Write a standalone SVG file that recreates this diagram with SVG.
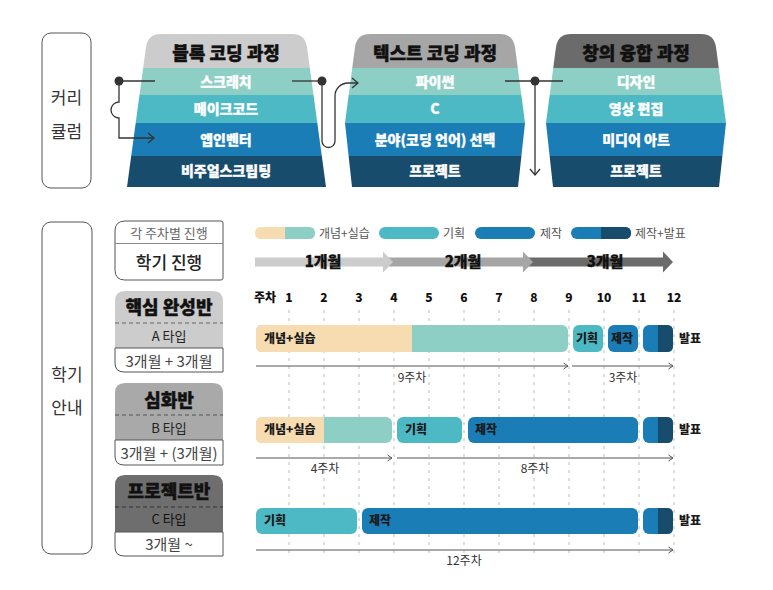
<svg xmlns="http://www.w3.org/2000/svg" width="773" height="590" viewBox="0 0 773 590">
<style>
text{font-family:"Noto Sans CJK KR","Noto Sans",sans-serif}
.hd{font-size:18px;font-weight:900;fill:#111;stroke:#111;stroke-width:0.4;text-anchor:middle}
.bd{font-size:14px;font-weight:900;fill:#fff;stroke:#fff;stroke-width:0.3;text-anchor:middle}
.side{font-size:17px;fill:#333;text-anchor:middle}
.box{fill:none;stroke:#555;stroke-width:1}
.con{fill:none;stroke:#333;stroke-width:1.3}
.grid{stroke:#bdbdbd;stroke-width:1;stroke-dasharray:3 5}
.wk{font-size:12px;font-weight:900;fill:#111;text-anchor:middle}
.lg{font-size:12px;fill:#555}
.bl{font-size:12px;font-weight:900;fill:#1a1a1a}
.dur{font-size:12px;fill:#333;text-anchor:middle}
.mo{font-size:15px;font-weight:900;fill:#111;stroke:#111;stroke-width:0.3;text-anchor:middle}
.rl{stroke:#555;stroke-width:1;fill:none}
.c0{fill:#f8dcb1}.c1{fill:#8ecfc5}.c2{fill:#4db9c5}.c3{fill:#1a7db6}.c4{fill:#184c6c}
</style>
<defs>
<marker id="chev" viewBox="0 0 8 12" refX="7" refY="6" markerWidth="8" markerHeight="12" markerUnits="userSpaceOnUse" orient="auto">
<path d="M1,1 L7,6 L1,11" fill="none" stroke="#333" stroke-width="1.3"/>
</marker>
<marker id="sm" viewBox="0 0 6 8" refX="5.5" refY="4" markerWidth="6" markerHeight="8" markerUnits="userSpaceOnUse" orient="auto">
<path d="M1,1 L5.5,4 L1,7" fill="none" stroke="#555" stroke-width="1"/>
</marker>
<clipPath id="b1"><path d="M161,34 H292 Q305,34 307,47 L326,187 H127 L146,47 Q148,34 161,34 Z"/></clipPath>
<clipPath id="b2"><path d="M370,34 H500 Q513,34 515,47 L525,123 L518,187 H352 L345,123 L355,47 Q357,34 370,34 Z"/></clipPath>
<clipPath id="b3"><path d="M571,34 H701 Q714,34 716,47 L726,123 L719,187 H553 L546,123 L556,47 Q558,34 571,34 Z"/></clipPath>
</defs>
<rect width="773" height="590" fill="#fff"/>

<g id="curriculum-label">
<rect class="box" x="42" y="33" width="49" height="155" rx="9"/>
<text class="side" x="66.5" y="104">커리</text>
<text class="side" x="66.5" y="138">큘럼</text>
</g>

<g id="block-coding">
<g clip-path="url(#b1)">
<rect x="120" y="34" width="210" height="34" fill="#cccccc"/>
<rect x="120" y="68" width="210" height="27" class="c1"/>
<rect x="120" y="95" width="210" height="28" class="c2"/>
<rect x="120" y="123" width="210" height="33" class="c3"/>
<rect x="120" y="156" width="210" height="31" class="c4"/>
</g>
<text class="hd" x="226" y="60">블록 코딩 과정</text>
<text class="bd" x="226" y="87">스크래치</text>
<text class="bd" x="226" y="114">메이크코드</text>
<text class="bd" x="226" y="145">앱인벤터</text>
<text class="bd" x="226" y="176">비주얼스크립팅</text>
</g>

<g id="text-coding">
<g clip-path="url(#b2)">
<rect x="340" y="34" width="190" height="34" fill="#a6a6a6"/>
<rect x="340" y="68" width="190" height="27" class="c1"/>
<rect x="340" y="95" width="190" height="28" class="c2"/>
<rect x="340" y="123" width="190" height="33" class="c3"/>
<rect x="340" y="156" width="190" height="31" class="c4"/>
</g>
<text class="hd" x="435" y="60">텍스트 코딩 과정</text>
<text class="bd" x="435" y="87">파이썬</text>
<text class="bd" x="435" y="114">C</text>
<text class="bd" x="435" y="145">분야(코딩 언어) 선택</text>
<text class="bd" x="435" y="176">프로젝트</text>
</g>

<g id="creative-fusion">
<g clip-path="url(#b3)">
<rect x="540" y="34" width="190" height="34" fill="#6b6b6b"/>
<rect x="540" y="68" width="190" height="27" class="c1"/>
<rect x="540" y="95" width="190" height="28" class="c2"/>
<rect x="540" y="123" width="190" height="33" class="c3"/>
<rect x="540" y="156" width="190" height="31" class="c4"/>
</g>
<text class="hd" x="636" y="60">창의 융합 과정</text>
<text class="bd" x="636" y="87">디자인</text>
<text class="bd" x="636" y="114">영상 편집</text>
<text class="bd" x="636" y="145">미디어 아트</text>
<text class="bd" x="636" y="176">프로젝트</text>
</g>

<g id="connectors">
<path class="con" d="M119,81 H155"/>
<path class="con" d="M119,81 V102 A8,8 0 0 0 119,118 V138 H154" marker-end="url(#chev)"/>
<circle cx="119" cy="81" r="4.5" fill="#333"/>
<path class="con" d="M292,81 H322"/>
<path class="con" d="M322,81 V141 A6.5,6.5 0 0 0 335,141 V96 A13,13 0 0 1 348,83 H358" marker-end="url(#chev)"/>
<circle cx="322" cy="81" r="4.5" fill="#333"/>
<path class="con" d="M505,81 H563"/>
<path class="con" d="M535,81 V175" marker-end="url(#chev)"/>
<circle cx="535" cy="81" r="4.5" fill="#333"/>
</g>

<g id="semester-label">
<rect class="box" x="42" y="222" width="50" height="332" rx="9"/>
<text class="side" x="67" y="381">학기</text>
<text class="side" x="67" y="414">안내</text>
</g>

<g id="legend-key">
<path class="box" d="M125,221 H221 Q223,221 223,223 V278 Q223,280 221,280 H125 Q115,280 115,270 V231 Q115,221 125,221 Z"/>
<line x1="115" y1="243.5" x2="223" y2="243.5" stroke="#888" stroke-width="1"/>
<text x="169" y="238" font-size="13" fill="#666" text-anchor="middle">각 주차별 진행</text>
<text x="169" y="269" font-size="17" font-weight="500" fill="#222" text-anchor="middle">학기 진행</text>
</g>

<g id="class-a">
<path d="M125,291 H213 Q223,291 223,301 V348 H115 V301 Q115,291 125,291 Z" fill="#cccccc"/>
<line x1="115" y1="323" x2="223" y2="323" stroke="#666" stroke-dasharray="4 3"/>
<text class="hd" x="169" y="314">핵심 완성반</text>
<text x="169" y="341" font-size="13" fill="#222" text-anchor="middle">A 타입</text>
<path class="box" d="M115,348 H223 V372 H124 Q115,372 115,363 Z"/>
<text x="169" y="367" font-size="15" fill="#444" text-anchor="middle">3개월 + 3개월</text>
</g>

<g id="class-b">
<path d="M125,383 H213 Q223,383 223,393 V440 H115 V393 Q115,383 125,383 Z" fill="#a9a9a9"/>
<line x1="115" y1="415" x2="223" y2="415" stroke="#555" stroke-dasharray="4 3"/>
<text class="hd" x="169" y="407">심화반</text>
<text x="169" y="433" font-size="13" fill="#222" text-anchor="middle">B 타입</text>
<path class="box" d="M115,440 H223 V465 H124 Q115,465 115,456 Z"/>
<text x="169" y="459" font-size="15" fill="#444" text-anchor="middle">3개월 + (3개월)</text>
</g>

<g id="class-c">
<path d="M125,475 H213 Q223,475 223,485 V532 H115 V485 Q115,475 125,475 Z" fill="#6e6e6e"/>
<line x1="115" y1="507" x2="223" y2="507" stroke="#333" stroke-dasharray="4 3"/>
<text class="hd" x="169" y="498">프로젝트반</text>
<text x="169" y="524" font-size="13" fill="#111" text-anchor="middle">C 타입</text>
<path class="box" d="M115,532 H223 V556 H124 Q115,556 115,547 Z"/>
<text x="169" y="550" font-size="15" fill="#444" text-anchor="middle">3개월 ~</text>
</g>

<g id="legend">
<path d="M261,227 H285 V239 H261 Q255,239 255,233 Q255,227 261,227 Z" class="c0"/>
<path d="M285,227 H309 Q315,227 315,233 Q315,239 309,239 H285 Z" class="c1"/>
<text class="lg" x="319" y="238">개념+실습</text>
<rect x="379" y="227" width="60" height="12" rx="6" class="c2"/>
<text class="lg" x="443" y="238">기획</text>
<rect x="475" y="227" width="60" height="12" rx="6" class="c3"/>
<text class="lg" x="540" y="238">제작</text>
<rect x="571" y="227" width="60" height="12" rx="6" class="c3"/>
<path d="M601,227 H625 Q631,227 631,233 Q631,239 625,239 H601 Z" class="c4"/>
<text class="lg" x="635" y="238">제작+발표</text>
</g>

<g id="months">
<rect x="528" y="257.5" width="136" height="9" fill="#6b6b6b"/>
<polygon points="663,251.5 673,262 663,272.5" fill="#6b6b6b"/>
<rect x="388" y="257.5" width="136" height="9" fill="#a6a6a6"/>
<polygon points="523,251.5 533,262 523,272.5" fill="#a6a6a6"/>
<rect x="255" y="257.5" width="129" height="9" fill="#cccccc"/>
<polygon points="383,251.5 393,262 383,272.5" fill="#cccccc"/>
<text class="mo" x="323" y="267">1개월</text>
<text class="mo" x="463" y="267">2개월</text>
<text class="mo" x="605" y="267">3개월</text>
</g>

<g id="weeks">
<text class="wk" x="265" y="302">주차</text>
<text class="wk" x="289" y="302">1</text>
<text class="wk" x="324" y="302">2</text>
<text class="wk" x="359" y="302">3</text>
<text class="wk" x="394" y="302">4</text>
<text class="wk" x="429" y="302">5</text>
<text class="wk" x="464" y="302">6</text>
<text class="wk" x="499" y="302">7</text>
<text class="wk" x="534" y="302">8</text>
<text class="wk" x="569" y="302">9</text>
<text class="wk" x="604" y="302">10</text>
<text class="wk" x="639" y="302">11</text>
<text class="wk" x="674" y="302">12</text>
<g class="grid">
<line x1="289" y1="310" x2="289" y2="556"/>
<line x1="324" y1="310" x2="324" y2="556"/>
<line x1="359" y1="310" x2="359" y2="556"/>
<line x1="394" y1="310" x2="394" y2="556"/>
<line x1="429" y1="310" x2="429" y2="556"/>
<line x1="464" y1="310" x2="464" y2="556"/>
<line x1="499" y1="310" x2="499" y2="556"/>
<line x1="534" y1="310" x2="534" y2="556"/>
<line x1="569" y1="310" x2="569" y2="556"/>
<line x1="604" y1="310" x2="604" y2="556"/>
<line x1="639" y1="310" x2="639" y2="556"/>
<line x1="674" y1="310" x2="674" y2="556"/>
</g>
</g>

<g id="row-a">
<rect x="256" y="325" width="312" height="27" rx="6" class="c1"/>
<path d="M262,325 H412 V352 H262 Q256,352 256,346 V331 Q256,325 262,325 Z" class="c0"/>
<text class="bl" x="264" y="343">개념+실습</text>
<rect x="573" y="325" width="30" height="27" rx="6" class="c2"/>
<text class="bl" x="576" y="343">기획</text>
<rect x="608" y="325" width="30" height="27" rx="6" class="c3"/>
<text class="bl" x="611" y="343">제작</text>
<rect x="643" y="325" width="30" height="27" rx="6" class="c3"/>
<path d="M658,325 H667 Q673,325 673,331 V346 Q673,352 667,352 H658 Z" class="c4"/>
<text class="bl" x="679" y="343">발표</text>
<line class="rl" x1="256" y1="366" x2="568" y2="366" marker-end="url(#sm)"/>
<line class="rl" x1="572" y1="366" x2="673" y2="366" marker-end="url(#sm)"/>
<text class="dur" x="412" y="382">9주차</text>
<text class="dur" x="623" y="382">3주차</text>
</g>

<g id="row-b">
<rect x="256" y="417" width="136" height="26" rx="6" class="c1"/>
<path d="M262,417 H324 V443 H262 Q256,443 256,437 V423 Q256,417 262,417 Z" class="c0"/>
<text class="bl" x="264" y="434">개념+실습</text>
<rect x="397" y="417" width="65" height="26" rx="6" class="c2"/>
<text class="bl" x="405" y="434">기획</text>
<rect x="468" y="417" width="170" height="26" rx="6" class="c3"/>
<text class="bl" x="475" y="434">제작</text>
<rect x="643" y="417" width="30" height="26" rx="6" class="c3"/>
<path d="M658,417 H667 Q673,417 673,423 V437 Q673,443 667,443 H658 Z" class="c4"/>
<text class="bl" x="679" y="434">발표</text>
<line class="rl" x1="256" y1="458" x2="392" y2="458" marker-end="url(#sm)"/>
<line class="rl" x1="397" y1="458" x2="673" y2="458" marker-end="url(#sm)"/>
<text class="dur" x="325" y="473">4주차</text>
<text class="dur" x="535" y="473">8주차</text>
</g>

<g id="row-c">
<rect x="256" y="508" width="101" height="26" rx="6" class="c2"/>
<text class="bl" x="264" y="525">기획</text>
<rect x="362" y="508" width="276" height="26" rx="6" class="c3"/>
<text class="bl" x="369" y="525">제작</text>
<rect x="643" y="508" width="30" height="26" rx="6" class="c3"/>
<path d="M658,508 H667 Q673,508 673,514 V528 Q673,534 667,534 H658 Z" class="c4"/>
<text class="bl" x="679" y="525">발표</text>
<line class="rl" x1="256" y1="550" x2="673" y2="550" marker-end="url(#sm)"/>
<text class="dur" x="464" y="565">12주차</text>
</g>
</svg>
